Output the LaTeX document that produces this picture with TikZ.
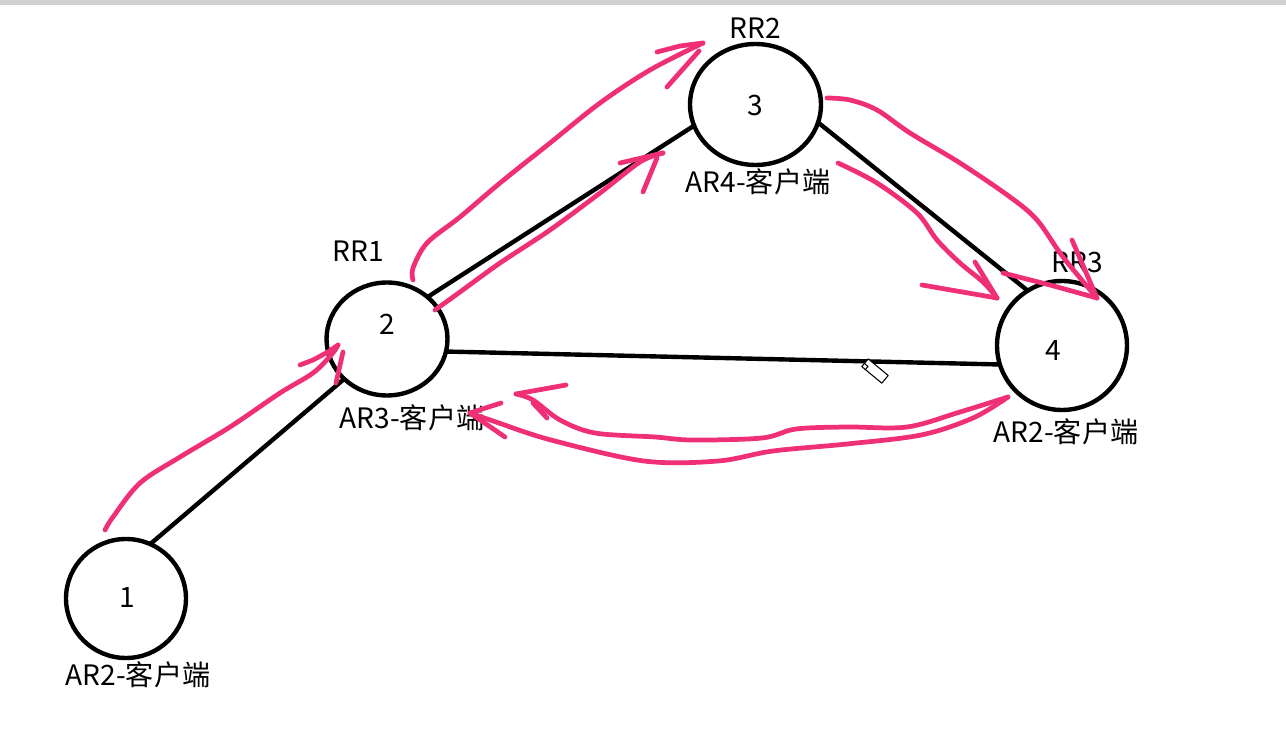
\documentclass[tikz,border=0pt]{standalone}
\usepackage{fontspec}
\setmainfont{Noto Sans CJK SC}
\usetikzlibrary{shapes.geometric}
\definecolor{pen}{RGB}{240,48,118}
\begin{document}
\begin{tikzpicture}[x=0.02cm,y=-0.02cm,
  router/.style={ellipse, draw=black, line width=2.5pt, inner sep=0pt, outer sep=0pt},
  link/.style={line width=2.5pt, black},
  txt/.style={font=\fontsize{16}{18}\selectfont, inner sep=0pt},
  ink/.style={draw=pen, line width=2.7pt, line cap=round, line join=round}]
\useasboundingbox (0,0) rectangle (1286,729);
\fill[black!18] (0,0) rectangle (1286,5);

% routers
\node[router, minimum width=2.40cm, minimum height=2.38cm] (n1) at (126,598.5) {};
\node[router, minimum width=2.42cm, minimum height=2.26cm] (n2) at (387,339) {};
\node[router, minimum width=2.62cm, minimum height=2.42cm] (n3) at (755.5,104.5) {};
\node[router, minimum width=2.60cm, minimum height=2.58cm] (n4) at (1062,345.5) {};

% numbers
\node[txt] (d1) at (127,597) {1};
\node[txt] (d2) at (387,324) {2};
\node[txt] (d3) at (755,105) {3};
\node[txt] (d4) at (1053,350) {4};

% labels
\node[txt] (l1) at (138,675) {AR2-客户端};
\node[txt] (rr1) at (358,251) {RR1};
\node[txt] (l2) at (412,418) {AR3-客户端};
\node[txt] (rr2) at (755,28) {RR2};
\node[txt] (l3) at (758,182) {AR4-客户端};
\node[txt] (rr3) at (1077,262) {RR3};
\node[txt] (l4) at (1066,432) {AR2-客户端};

% links
\draw[link] (n1.66) -- (n2.223);
\draw[link] (n2.46) -- (n3.199);
\draw[link] (n2.348) -- (n4.197);
\draw[link] (n3.344) -- (n4.122);

% cursor
\draw[black, line width=0.6pt, fill=white, line join=round]
  (861.8,366.6) -- (868.2,358.9) -- (888.2,375.5) -- (881.8,383.2) -- cycle;
\draw[black, line width=0.6pt] (864.5,363.5) -- (868,366.5) -- (865,370);

% pink annotations
% A: 1 -> 2
\coordinate (tA) at (338,345);
\draw[ink] plot[smooth, tension=0.55] coordinates {(105,530) (113,517) (140,483) (180,457) (230,427) (280,393) (313,373) (332,354) (338,345)};
\draw[ink] (300,365) -- (313,360) -- (328,352) -- (tA);
\draw[ink] (343,352) -- (336,383);
% B: 2 -> 3 (outer)
\coordinate (tB) at (703,43);
\draw[ink] plot[smooth, tension=0.55] coordinates {(413,280) (413,268) (427,243) (460,217) (500,183) (550,143) (600,103) (650,70) (tB)};
\draw[ink] (657,52) -- (680,46) -- (tB);
\draw[ink] (699,51) -- (667,87);
% C: 2 -> 3 (inner)
\coordinate (tC) at (663,153);
\draw[ink] plot[smooth, tension=0.55] coordinates {(435,310) (460,292) (500,263) (550,230) (600,193) (640,162) (tC)};
\draw[ink] (620,163) -- (tC);
\draw[ink] (657,158) -- (643,192);
% D: 3 -> 4 (outer)
\coordinate (tD) at (1097,298);
\draw[ink] plot[smooth, tension=0.55] coordinates {(827,98) (850,100) (877,110) (910,133) (960,163) (1010,197) (1037,220) (1063,257) (tD)};
\draw[ink] (1072,240) -- (tD);
\draw[ink] (1003,273) -- (1050,285) -- (tD);
% E: 3 -> 4 (inner)
\coordinate (tE) at (997,298);
\draw[ink] plot[smooth, tension=0.55] coordinates {(838,163) (877,183) (917,213) (937,240) (960,263) (983,282) (tE)};
\draw[ink] (975,262) -- (tE);
\draw[ink] (922,285) -- (tE);
% F: 4 -> 2
\coordinate (sF) at (1008,397);
\coordinate (tF1) at (516,394);
\coordinate (tF2) at (470,413);
\draw[ink] plot[smooth, tension=0.55] coordinates {(sF) (960,412) (907,427) (847,427) (796,429) (762,438) (692,440) (655,437) (595,433) (560,420) (533,400) (tF1)};
\draw[ink] (tF1) -- (566,385);
\draw[ink] (533,403) -- (547,418);
\draw[ink] plot[smooth, tension=0.55] coordinates {(sF) (973,418) (921,435) (847,444) (773,451) (718,461) (644,461) (551,440) (496,422) (tF2)};
\draw[ink] (tF2) -- (501,403);
\draw[ink] (tF2) -- (505,437);
\end{tikzpicture}
\end{document}
